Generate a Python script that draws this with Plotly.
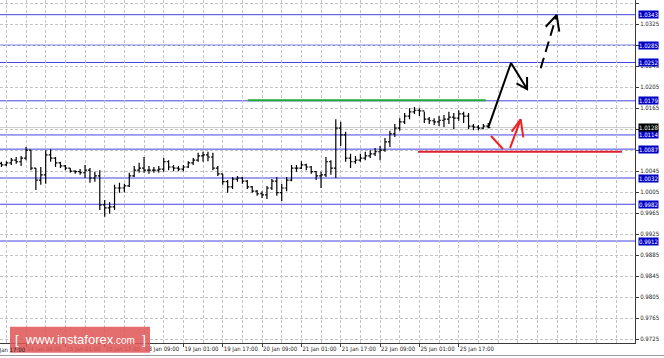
import plotly.graph_objects as go

# ---------------- data ----------------
time_labels = ["13 Jan 17:00", "14 Jan 09:00", "15 Jan 01:00", "15 Jan 17:00",
               "18 Jan 09:00", "19 Jan 01:00", "19 Jan 17:00", "20 Jan 09:00",
               "21 Jan 01:00", "21 Jan 17:00", "22 Jan 09:00", "25 Jan 01:00",
               "25 Jan 17:00"]
label_bars = [0, 8, 16, 24, 32, 40, 48, 56, 64, 72, 80, 88, 96]

bar_index = list(range(3, 103))
highs = [1.0063, 1.0064, 1.0070, 1.0072, 1.0074, 1.0091, 1.0085, 1.0051, 1.0053, 1.0085,
         1.0087, 1.0072, 1.0063, 1.0057, 1.0051, 1.0047, 1.0049, 1.0057, 1.0051, 1.0044,
         1.0047, 0.9990, 0.9986, 1.0019, 1.0023, 1.0021, 1.0042, 1.0055, 1.0061, 1.0072,
         1.0055, 1.0053, 1.0055, 1.0070, 1.0066, 1.0057, 1.0055, 1.0057, 1.0064, 1.0070,
         1.0080, 1.0082, 1.0082, 1.0080, 1.0055, 1.0040, 1.0028, 1.0034, 1.0036, 1.0034,
         1.0028, 1.0017, 1.0009, 1.0007, 1.0017, 1.0030, 1.0034, 1.0021, 1.0034, 1.0057,
         1.0057, 1.0064, 1.0059, 1.0055, 1.0045, 1.0044, 1.0072, 1.0066, 1.0144, 1.0139,
         1.0120, 1.0078, 1.0074, 1.0078, 1.0082, 1.0085, 1.0089, 1.0093, 1.0108, 1.0122,
         1.0135, 1.0146, 1.0156, 1.0165, 1.0167, 1.0165, 1.0158, 1.0148, 1.0146, 1.0150,
         1.0152, 1.0158, 1.0156, 1.0161, 1.0158, 1.0156, 1.0135, 1.0133, 1.0135, 1.0137]
lows = [1.0053, 1.0055, 1.0057, 1.0059, 1.0055, 1.0066, 1.0047, 1.0009, 1.0019, 1.0021,
        1.0063, 1.0053, 1.0051, 1.0047, 1.0042, 1.0040, 1.0038, 1.0032, 1.0023, 1.0025,
        0.9971, 0.9958, 0.9964, 0.9971, 1.0004, 1.0005, 1.0015, 1.0034, 1.0042, 1.0042,
        1.0040, 1.0042, 1.0042, 1.0044, 1.0047, 1.0045, 1.0045, 1.0045, 1.0051, 1.0057,
        1.0063, 1.0063, 1.0064, 1.0047, 1.0036, 1.0019, 1.0004, 1.0011, 1.0025, 1.0021,
        1.0011, 1.0004, 0.9998, 0.9994, 0.9992, 1.0009, 0.9998, 0.9988, 1.0007, 1.0026,
        1.0044, 1.0049, 1.0047, 1.0040, 1.0028, 1.0013, 1.0034, 1.0038, 1.0032, 1.0093,
        1.0063, 1.0051, 1.0059, 1.0063, 1.0066, 1.0070, 1.0074, 1.0066, 1.0082, 1.0091,
        1.0110, 1.0122, 1.0135, 1.0144, 1.0154, 1.0150, 1.0137, 1.0135, 1.0133, 1.0131,
        1.0129, 1.0135, 1.0125, 1.0141, 1.0137, 1.0125, 1.0123, 1.0123, 1.0125, 1.0127]
closes = [1.0057, 1.0061, 1.0066, 1.0063, 1.0070, 1.0085, 1.0051, 1.0028, 1.0038, 1.0076,
          1.0070, 1.0061, 1.0055, 1.0051, 1.0045, 1.0044, 1.0042, 1.0047, 1.0032, 1.0036,
          0.9981, 0.9975, 0.9977, 1.0013, 1.0013, 1.0017, 1.0036, 1.0047, 1.0051, 1.0047,
          1.0047, 1.0047, 1.0049, 1.0063, 1.0053, 1.0051, 1.0049, 1.0053, 1.0061, 1.0066,
          1.0074, 1.0076, 1.0072, 1.0051, 1.0040, 1.0025, 1.0015, 1.0030, 1.0032, 1.0026,
          1.0015, 1.0007, 1.0002, 1.0000, 1.0013, 1.0026, 1.0004, 1.0013, 1.0028, 1.0051,
          1.0051, 1.0057, 1.0053, 1.0044, 1.0036, 1.0038, 1.0063, 1.0051, 1.0127, 1.0114,
          1.0070, 1.0063, 1.0066, 1.0070, 1.0074, 1.0078, 1.0082, 1.0085, 1.0101, 1.0116,
          1.0127, 1.0139, 1.0150, 1.0158, 1.0161, 1.0160, 1.0144, 1.0141, 1.0139, 1.0142,
          1.0144, 1.0148, 1.0146, 1.0154, 1.0150, 1.0131, 1.0129, 1.0127, 1.0131, 1.0128]
first_open = 1.0060
opens = [first_open] + closes[:-1]

levels = [1.0343, 1.0285, 1.0252, 1.0179, 1.0114, 1.0087, 1.0032, 0.9982, 0.9912]
current_price = 1.0128
price_ticks = [0.9725, 0.9765, 0.9805, 0.9845, 0.9885, 0.9925, 0.9965, 1.0005, 1.0045,
               1.0085, 1.0125, 1.0165, 1.0205, 1.0245, 1.0285, 1.0325, 1.0365]

# analyst drawings (bar index, price)
green_level = 1.0180
green_bars = [53.1, 101.5]
red_level = 1.0082
red_bars = [87.7, 129.2]

black_path_bars = [102.0, 106.63, 109.9, None, 107.75, 109.9, 109.9]
black_path_prices = [1.0128, 1.0251, 1.02015, None, 1.02124, 1.02015, 1.02244]

dash_path_bars = [112.67, 115.92]
dash_path_prices = [1.02409, 1.03424]
dash_head_bars = [113.69, 115.92, 116.45]
dash_head_prices = [1.03201, 1.03424, 1.03106]

red_path_bars = [102.56, 105.0, None, 106.43, 108.6, None, 106.77, 108.6, 109.13]
red_path_prices = [1.0112, 1.00872, None, 1.00891, 1.01438, None, 1.01202, 1.01438, 1.01095]

x_range = [2.705, 131.85]
y_range = [0.97178, 1.03710]

# ---------------- figure ----------------
GRID = "#c4c4c4"
AX = "#3a3a3a"
LEVEL_BLUE = "#4444e6"
BOX_BLUE = "#0000c4"
TICK_FONT = "Liberation Sans Narrow, DejaVu Sans Condensed, Liberation Sans, Arial, sans-serif"

fig = go.Figure()

fig.add_trace(go.Ohlc(
    x=bar_index, open=opens, high=highs, low=lows, close=closes,
    increasing=dict(line=dict(color="black", width=1.2)),
    decreasing=dict(line=dict(color="black", width=1.2)),
    tickwidth=0.4, hoverinfo="skip", showlegend=False))

fig.add_trace(go.Scatter(x=green_bars, y=[green_level, green_level], mode="lines",
                         line=dict(color="#22aa33", width=2), hoverinfo="skip",
                         showlegend=False))
fig.add_trace(go.Scatter(x=red_bars, y=[red_level, red_level], mode="lines",
                         line=dict(color="#e02030", width=2), hoverinfo="skip",
                         showlegend=False))
fig.add_trace(go.Scatter(x=black_path_bars, y=black_path_prices, mode="lines",
                         line=dict(color="black", width=2), hoverinfo="skip",
                         showlegend=False, connectgaps=False))
fig.add_trace(go.Scatter(x=dash_path_bars, y=dash_path_prices, mode="lines",
                         line=dict(color="black", width=2, dash="11px,6px"),
                         hoverinfo="skip", showlegend=False))
fig.add_trace(go.Scatter(x=dash_head_bars, y=dash_head_prices, mode="lines",
                         line=dict(color="black", width=2), hoverinfo="skip",
                         showlegend=False))
fig.add_trace(go.Scatter(x=red_path_bars, y=red_path_prices, mode="lines",
                         line=dict(color="#ee2222", width=2), hoverinfo="skip",
                         showlegend=False, connectgaps=False))

shapes = []
shapes.append(dict(type="line", xref="paper", x0=0, x1=1, yref="y",
                   y0=current_price, y1=current_price,
                   line=dict(color="#c8c8c8", width=1), layer="below"))
for lv in levels:
    shapes.append(dict(type="line", xref="paper", x0=0, x1=1, yref="y", y0=lv, y1=lv,
                       line=dict(color=LEVEL_BLUE, width=1), layer="below"))
shapes.append(dict(type="rect", xref="paper", yref="paper",
                   x0=10 / 635, x1=150 / 635, y0=(343 - 352.7) / 343, y1=(343 - 326.7) / 343,
                   fillcolor="rgba(224,86,86,0.86)", line=dict(width=0), layer="above"))
shapes.append(dict(type="line", xref="paper", yref="paper", x0=0, x1=664 / 635,
                   y0=(343 - 355.5) / 343, y1=(343 - 355.5) / 343,
                   line=dict(color="#9a9a9a", width=1)))

annotations = []
for lv in levels:
    annotations.append(dict(xref="paper", x=1, xanchor="left", xshift=3, yref="y", y=lv,
                            yanchor="middle", text=f"{lv:.4f}", showarrow=False,
                            bgcolor=BOX_BLUE, borderpad=0,
                            font=dict(family=TICK_FONT, size=6, color="white")))
annotations.append(dict(xref="paper", x=1, xanchor="left", xshift=3, yref="y",
                        y=current_price, yanchor="middle", text=f"{current_price:.4f}",
                        showarrow=False, bgcolor="black", borderpad=0,
                        font=dict(family=TICK_FONT, size=6, color="white")))
annotations.append(dict(xref="paper", x=(label_bars[0] - x_range[0]) / (x_range[1] - x_range[0]),
                        xanchor="left", xshift=2, yref="paper", y=0, yanchor="top", yshift=-1,
                        text=time_labels[0], showarrow=False,
                        font=dict(family=TICK_FONT, size=6, color="#222")))
annotations.append(dict(xref="paper", yref="paper", x=80 / 635, y=(343 - 339.7) / 343,
                        xanchor="center", yanchor="middle", showarrow=False,
                        text="[  www.instaforex<span style='font-size:10px'>.com</span>  ]",
                        font=dict(family="Liberation Sans, Arial, sans-serif", size=13,
                                  color="white")))

fig.update_layout(
    width=664, height=358, autosize=False,
    margin=dict(l=0, r=29, t=0, b=15, pad=0),
    paper_bgcolor="white", plot_bgcolor="white",
    shapes=shapes, annotations=annotations,
    showlegend=False,
    xaxis=dict(range=x_range, tickmode="array", tickvals=label_bars[1:], ticktext=time_labels[1:],
               ticks="outside", ticklen=3, tickcolor=AX, showline=True, linecolor=AX,
               linewidth=1, ticklabelposition="outside right", tickangle=0, automargin=False,
               tickfont=dict(family=TICK_FONT, size=6, color="#222"),
               showgrid=True, gridcolor=GRID, griddash="3px,2px", gridwidth=1,
               minor=dict(tick0=0, dtick=4, showgrid=True, gridcolor=GRID,
                          griddash="3px,2px", gridwidth=1, ticks=""),
               zeroline=False, rangeslider=dict(visible=False), fixedrange=True),
    yaxis=dict(range=y_range, side="right", tickmode="array", tickvals=price_ticks,
               ticktext=[f"{t:.4f}" for t in price_ticks], automargin=False,
               ticks="outside", ticklen=3, tickcolor=AX, showline=True, linecolor=AX,
               linewidth=1, tickfont=dict(family=TICK_FONT, size=6, color="#222"),
               showgrid=True, gridcolor=GRID, griddash="3px,2px", gridwidth=1,
               zeroline=False, fixedrange=True),
)

fig.write_html("out.html", config={"displayModeBar": False, "staticPlot": True})
